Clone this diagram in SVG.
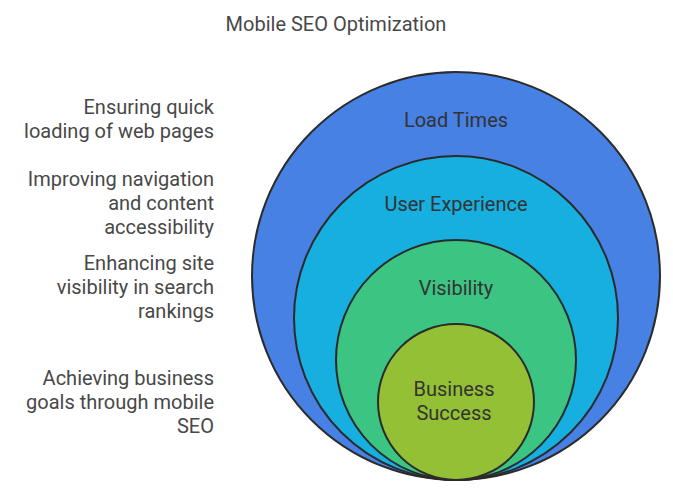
<svg xmlns="http://www.w3.org/2000/svg" width="673" height="494" viewBox="0 0 673 494">
<style>
.c{stroke:#2b2b2b;stroke-width:2}
.lbl{font-family:Roboto,"Liberation Sans",sans-serif;font-size:20px;fill:#333;text-anchor:middle}
.desc{font-family:Roboto,"Liberation Sans",sans-serif;font-size:20px;fill:#484848;text-anchor:end}
.title{font-family:Roboto,"Liberation Sans",sans-serif;font-size:20px;fill:#484848;text-anchor:middle}
</style>
<rect width="673" height="494" fill="#fff"/>
<text class="title" x="336" y="31">Mobile SEO Optimization</text>
<g id="load-times">
<circle class="c" cx="456" cy="276" r="204" fill="#4681e3"/>
<text class="lbl" x="456" y="127">Load Times</text>
</g>
<g id="user-experience">
<circle class="c" cx="456" cy="318" r="162" fill="#16afe0"/>
<text class="lbl" x="456" y="211">User Experience</text>
</g>
<g id="visibility">
<circle class="c" cx="456" cy="360" r="120" fill="#3cc482"/>
<text class="lbl" x="456" y="295">Visibility</text>
</g>
<g id="business-success">
<circle class="c" cx="456" cy="402" r="78" fill="#93c034"/>
<text class="lbl" x="454" y="396">Business</text>
<text class="lbl" x="454" y="420">Success</text>
</g>
<g id="descriptions">
<text class="desc" x="214" y="114">Ensuring quick</text>
<text class="desc" x="214" y="138">loading of web pages</text>
<text class="desc" x="214" y="186">Improving navigation</text>
<text class="desc" x="214" y="210">and content</text>
<text class="desc" x="214" y="234">accessibility</text>
<text class="desc" x="214" y="270">Enhancing site</text>
<text class="desc" x="214" y="294">visibility in search</text>
<text class="desc" x="214" y="318">rankings</text>
<text class="desc" x="214" y="385">Achieving business</text>
<text class="desc" x="214" y="409">goals through mobile</text>
<text class="desc" x="214" y="433">SEO</text>
</g>
<g id="connectors"/>
</svg>
